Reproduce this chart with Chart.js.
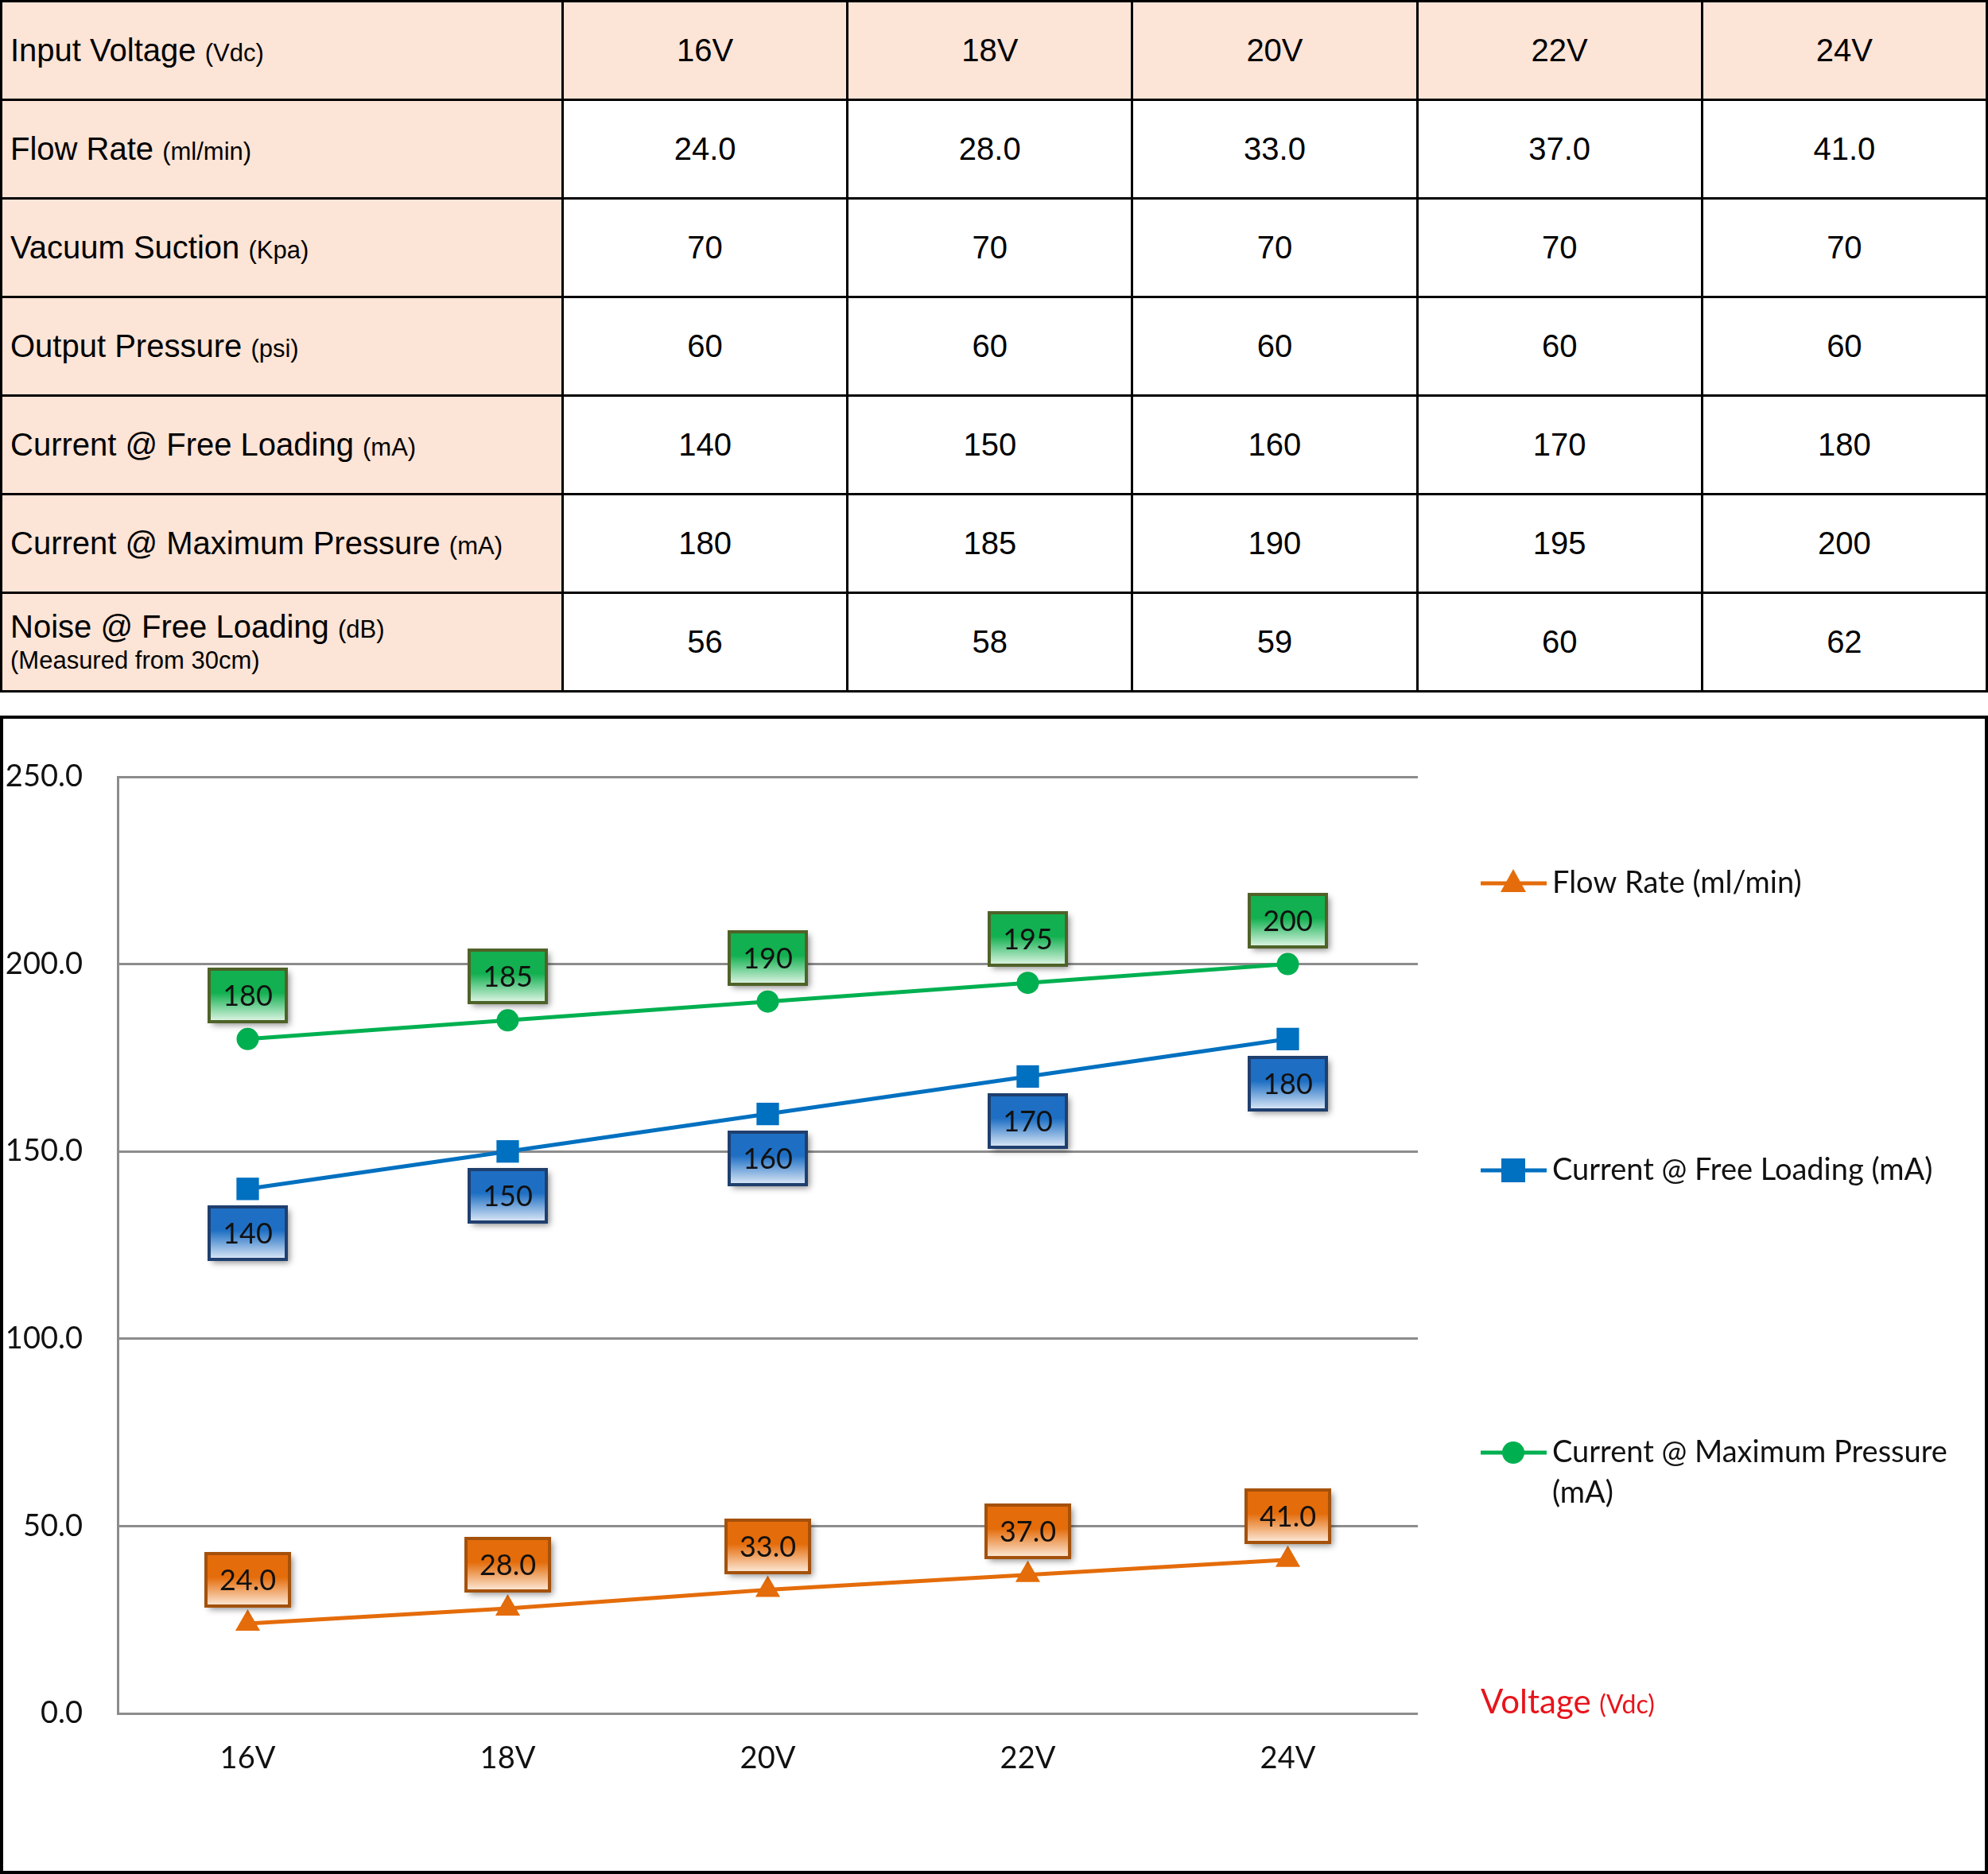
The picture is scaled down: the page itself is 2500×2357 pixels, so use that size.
<!DOCTYPE html>
<html>
<head>
<meta charset="utf-8">
<title>Pump performance</title>
<script src="https://cdn.jsdelivr.net/npm/chart.js@4.4.1/dist/chart.umd.min.js"></script>
<style>
html, body { margin: 0; padding: 0; background: #fff; }
body { position: relative; width: 2500px; height: 2357px; overflow: hidden; font-family: "Liberation Sans", Arial, sans-serif; }
#specs { position: absolute; left: 0; top: 0; width: 2500px; height: 868px; border-collapse: collapse; table-layout: fixed; }
#specs td { border: 3px solid #000; font-size: 40px; color: #000; text-align: center; vertical-align: middle; padding: 0; }
#specs tr { height: 124px; }
#specs td.lbl { text-align: left; padding-left: 10px; background: #fce4d6; }
#specs tr.head td { background: #fce4d6; }
#specs .unit { font-size: 31px; }
#specs .sub { font-size: 31px; display: block; margin-top: 2px; }
#chartBox { position: absolute; left: 0; top: 900px; width: 2500px; height: 1457px; }
#frame { position: absolute; left: 0; top: 900px; width: 2500px; height: 1457px; border: 4px solid #000; box-sizing: border-box; pointer-events: none; }
</style>
</head>
<body>
<table id="specs">
  <colgroup><col style="width:706px"><col><col><col><col><col></colgroup>
  <tbody id="specsBody"></tbody>
</table>
<div id="chartBox"><canvas id="perfChart" width="2500" height="1457"></canvas></div>
<div id="frame"></div>

<script>
'use strict';

// --- data ---
const voltages = ['16V', '18V', '20V', '22V', '24V'];
const flowRate = [24.0, 28.0, 33.0, 37.0, 41.0];
const vacuumSuction = [70, 70, 70, 70, 70];
const outputPressure = [60, 60, 60, 60, 60];
const currentFree = [140, 150, 160, 170, 180];
const currentMax = [180, 185, 190, 195, 200];
const noise = [56, 58, 59, 60, 62];

const yMin = 0;
const yMax = 250;
const yStep = 50;

const ORANGE = '#e46c0a';
const BLUE = '#0070c0';
const GREEN = '#00b050';

// --- spec table ---
const tableRows = [
    { name: 'Input Voltage', unit: '(Vdc)', values: voltages, head: true },
    { name: 'Flow Rate', unit: '(ml/min)', values: flowRate.map(v => v.toFixed(1)) },
    { name: 'Vacuum Suction', unit: '(Kpa)', values: vacuumSuction },
    { name: 'Output Pressure', unit: '(psi)', values: outputPressure },
    { name: 'Current @ Free Loading', unit: '(mA)', values: currentFree },
    { name: 'Current @ Maximum Pressure', unit: '(mA)', values: currentMax },
    { name: 'Noise @ Free Loading', unit: '(dB)', sub: '(Measured from 30cm)', values: noise }
];

const tbody = document.getElementById('specsBody');
tableRows.forEach(row => {
    const tr = document.createElement('tr');
    if (row.head) tr.className = 'head';
    let html = `<td class="lbl">${row.name} <span class="unit">${row.unit}</span>`;
    if (row.sub) html += `<span class="sub">${row.sub}</span>`;
    html += '</td>';
    row.values.forEach(v => { html += `<td>${v}</td>`; });
    tr.innerHTML = html;
    tbody.appendChild(tr);
});

// --- boxed value labels (Excel style callouts) ---
const boxStyles = [
    { shift: -55, top: '#e46c0a', bottom: '#fdebdc', edge: '#a4510b', fmt: v => v.toFixed(1) },
    { shift: 56, top: '#1e6fc4', bottom: '#dfeaf7', edge: '#1f3f6e', fmt: v => String(v) },
    { shift: -55, top: '#12b050', bottom: '#e2f6e7', edge: '#4f6228', fmt: v => String(v) }
];

const boxLabels = {
    id: 'boxLabels',
    afterDatasetsDraw(chart) {
        const c = chart.ctx;
        chart.data.datasets.forEach((ds, i) => {
            const st = boxStyles[i];
            const meta = chart.getDatasetMeta(i);
            meta.data.forEach((pt, j) => {
                const txt = st.fmt(ds.data[j]);
                c.save();
                c.font = '36px Lato';
                const w = Math.round(c.measureText(txt).width + 34);
                const h = 66;
                const x = Math.round(pt.x - w / 2);
                const y = Math.round(pt.y + st.shift - h / 2);

                c.shadowColor = 'rgba(0,0,0,0.45)';
                c.shadowBlur = 8;
                c.shadowOffsetX = 4;
                c.shadowOffsetY = 4;
                const g = c.createLinearGradient(0, y, 0, y + h);
                g.addColorStop(0, st.top);
                g.addColorStop(0.45, st.top);
                g.addColorStop(1, st.bottom);
                c.fillStyle = g;
                c.fillRect(x, y, w, h);

                c.shadowColor = 'transparent';
                c.lineWidth = 4;
                c.strokeStyle = st.edge;
                c.strokeRect(x, y, w, h);

                c.fillStyle = '#111';
                c.textAlign = 'center';
                c.textBaseline = 'middle';
                c.fillText(txt, pt.x, y + h / 2 + 1);
                c.restore();
            });
        });
    }
};

// --- legend on the right + axis caption ---
const legendRows = [211, 572, 927];
const legendLines = [['Flow Rate (ml/min)'], ['Current @ Free Loading (mA)'], ['Current @ Maximum Pressure', '(mA)']];

function drawMarker(c, style, x, y, color) {
    c.fillStyle = color;
    c.beginPath();
    if (style === 'triangle') {
        c.moveTo(x, y - 18);
        c.lineTo(x + 16, y + 11);
        c.lineTo(x - 16, y + 11);
        c.closePath();
    } else if (style === 'rect') {
        c.rect(x - 15, y - 15, 30, 30);
    } else {
        c.arc(x, y, 14, 0, Math.PI * 2);
    }
    c.fill();
}

const sideLegend = {
    id: 'sideLegend',
    afterDraw(chart) {
        const c = chart.ctx;
        c.save();
        chart.data.datasets.forEach((ds, i) => {
            const y = legendRows[i];
            c.strokeStyle = ds.borderColor;
            c.lineWidth = 5;
            c.beginPath();
            c.moveTo(1862, y);
            c.lineTo(1945, y);
            c.stroke();
            drawMarker(c, ds.pointStyle, 1903, y, ds.borderColor);

            c.fillStyle = '#111';
            c.font = '38px Lato';
            c.textAlign = 'left';
            c.textBaseline = 'middle';
            legendLines[i].forEach((t, k) => c.fillText(t, 1952, y + k * 51));
        });

        // x axis caption
        c.textBaseline = 'alphabetic';
        c.fillStyle = '#e8141b';
        c.font = '42px Lato';
        c.fillText('Voltage', 1862, 1255);
        const w = c.measureText('Voltage ').width;
        c.font = '32px Lato';
        c.fillText('(Vdc)', 1862 + w, 1255);
        c.restore();
    }
};

const ctx = document.getElementById('perfChart').getContext('2d');
new Chart(ctx, {
    type: 'line',
    data: {
        labels: voltages,
        datasets: [
            {
                label: 'Flow Rate (ml/min)',
                data: flowRate,
                borderColor: ORANGE,
                backgroundColor: ORANGE,
                borderWidth: 5,
                pointStyle: 'triangle',
                pointRadius: 18,
                pointBorderWidth: 0,
                pointBackgroundColor: ORANGE
            },
            {
                label: 'Current @ Free Loading (mA)',
                data: currentFree,
                borderColor: BLUE,
                backgroundColor: BLUE,
                borderWidth: 5,
                pointStyle: 'rect',
                pointRadius: 20,
                pointBorderWidth: 0,
                pointBackgroundColor: BLUE
            },
            {
                label: 'Current @ Maximum Pressure (mA)',
                data: currentMax,
                borderColor: GREEN,
                backgroundColor: GREEN,
                borderWidth: 5,
                pointStyle: 'circle',
                pointRadius: 14,
                pointBorderWidth: 0,
                pointBackgroundColor: GREEN
            }
        ]
    },
    options: {
        responsive: false,
        animation: false,
        layout: { padding: { top: 77, right: 717, left: 0, bottom: 0 } },
        plugins: { legend: { display: false }, tooltip: { enabled: false } },
        scales: {
            x: {
                offset: true,
                grid: { display: false, drawTicks: false },
                border: { display: false },
                ticks: { font: { family: 'Lato', size: 38 }, color: '#111', padding: 34 },
                afterFit(s) { s.height = 202; }
            },
            y: {
                min: yMin,
                max: yMax,
                ticks: {
                    stepSize: yStep,
                    font: { family: 'Lato', size: 38 },
                    color: '#111',
                    padding: 44,
                    callback: v => v.toFixed(1)
                },
                grid: { color: '#8c8c8c', lineWidth: 3, drawTicks: false },
                border: { color: '#8c8c8c', width: 3 },
                afterFit(s) { s.width = 148; }
            }
        }
    },
    plugins: [boxLabels, sideLegend]
});
</script>
</body>
</html>
